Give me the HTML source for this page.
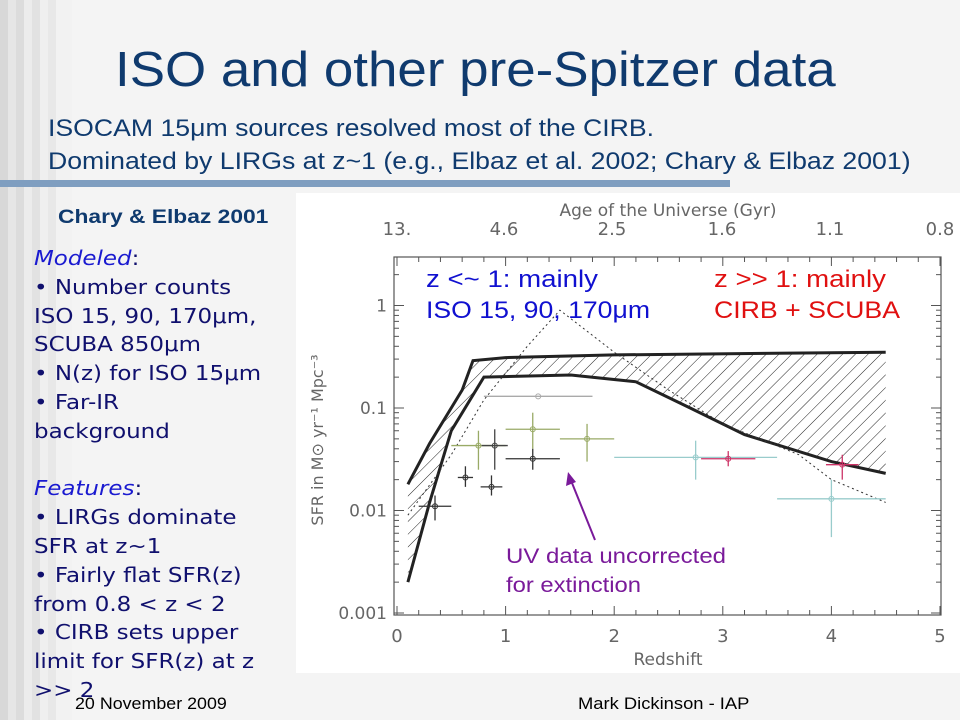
<!DOCTYPE html>
<html><head><meta charset="utf-8"><style>
body{margin:0;width:960px;height:720px;overflow:hidden;position:relative;font-family:"Liberation Sans",sans-serif;
background:linear-gradient(90deg,#d8d8d8 0,#d8d8d8 8px,#e6e6e6 8px,#e6e6e6 16px,#dcdcdc 16px,#dcdcdc 24px,#ececec 24px,#ececec 32px,#e2e2e2 32px,#e2e2e2 40px,#efefef 40px,#efefef 48px,#e8e8e8 48px,#e8e8e8 56px,#f2f2f2 56px,#f2f2f2 72px,#f4f4f4 72px,#f4f4f4 100%);}
.t{position:absolute;white-space:nowrap;transform-origin:0 0}
#left{position:absolute;left:34px;top:244px;font-family:"DejaVu Sans",sans-serif;font-size:20.5px;line-height:28.8px;color:#10106e;transform:scaleX(1.12);transform-origin:0 0;white-space:nowrap}
#left i{color:#1a1ad0}
</style></head><body>
<div class="t" style="left:115px;top:42px;font-size:49px;color:#0f3a6e;transform:scaleX(1.08)">ISO and other pre-Spitzer data</div>
<div class="t" style="left:48px;top:112px;font-size:24px;line-height:33px;color:#0f3a6e;transform:scaleX(1.11)">ISOCAM 15μm sources resolved most of the CIRB.<br>Dominated by LIRGs at z~1 (e.g., Elbaz et al. 2002; Chary &amp; Elbaz 2001)</div>
<div style="position:absolute;left:0;top:180px;width:730px;height:7px;background:#7f9ec0"></div>
<div class="t" style="left:58px;top:207px;font-size:19px;font-weight:bold;color:#0f3a6e;transform:scaleX(1.2)">Chary &amp; Elbaz 2001</div>
<div style="position:absolute;left:296px;top:193px;width:664px;height:480px;background:#fff"></div>
<div id="left"><i>Modeled</i>:<br>• Number counts<br>ISO 15, 90, 170μm,<br>SCUBA 850μm<br>• N(z) for ISO 15μm<br>• Far-IR<br>background<br><br><i>Features</i>:<br>• LIRGs dominate<br>SFR at z~1<br>• Fairly flat SFR(z)<br>from 0.8 &lt; z &lt; 2<br>• CIRB sets upper<br>limit for SFR(z) at z<br>&gt;&gt; 2</div>
<svg id="s" width="960" height="720" style="position:absolute;left:0;top:0" font-family="DejaVu Sans,sans-serif"></svg>
<div class="t" style="left:75px;top:694px;font-size:17px;color:#000;transform:scaleX(1.05)">20 November 2009</div>
<div class="t" style="left:578px;top:694px;font-size:17px;color:#000;transform:scaleX(1.08)">Mark Dickinson - IAP</div>
<script>
const X=z=>397+108.6*z, Y=v=>613-(Math.log10(v)+3)*102.5;
let h='';
h+='<defs><pattern id="hp" width="9" height="9" patternUnits="userSpaceOnUse" patternTransform="rotate(45)"><line x1="0" y1="0" x2="0" y2="9" stroke="#222" stroke-width="1"/></pattern></defs>';
h+='<rect x="394" y="257" width="547" height="358" fill="none" stroke="#555" stroke-width="1.2"/>';
for(let i=0;i<=5;i++){h+=`<text x="${X(i)}" y="642" font-size="18" fill="#666" text-anchor="middle">${i}</text><line x1="${X(i)}" y1="615" x2="${X(i)}" y2="606" stroke="#555"/><line x1="${X(i)}" y1="257" x2="${X(i)}" y2="266" stroke="#555"/>`;
 for(let k=1;k<5&&i<5;k++){const x=X(i+k*0.2);h+=`<line x1="${x}" y1="615" x2="${x}" y2="610" stroke="#555"/><line x1="${x}" y1="257" x2="${x}" y2="262" stroke="#555"/>`;}}
const yl=[[1,'1'],[0.1,'0.1'],[0.01,'0.01'],[0.001,'0.001']];
for(const [v,s] of yl){h+=`<text x="387" y="${Y(v)+6}" font-size="17" fill="#666" text-anchor="end">${s}</text><line x1="394" y1="${Y(v)}" x2="404" y2="${Y(v)}" stroke="#555"/><line x1="941" y1="${Y(v)}" x2="931" y2="${Y(v)}" stroke="#555"/>`;
 for(let k=2;k<10;k++){const y=Y(v*k);if(y<257)continue;h+=`<line x1="394" y1="${y}" x2="399" y2="${y}" stroke="#555"/><line x1="941" y1="${y}" x2="936" y2="${y}" stroke="#555"/>`;}}
[['13.',397],['4.6',504],['2.5',612],['1.6',722],['1.1',830],['0.8',940]].forEach(([s,x])=>h+=`<text x="${x}" y="235" font-size="18" fill="#666" text-anchor="middle">${s}</text>`);
h+='<text x="668" y="216" font-size="17" fill="#666" text-anchor="middle">Age of the Universe (Gyr)</text>';
h+='<text x="668" y="665" font-size="17" fill="#666" text-anchor="middle">Redshift</text>';
h+='<text transform="translate(323,440) rotate(-90)" font-size="16" fill="#666" text-anchor="middle">SFR in M⊙ yr⁻¹ Mpc⁻³</text>';
const P=a=>a.map(([z,v],i)=>(i?'L':'M')+X(z).toFixed(1)+','+Y(v).toFixed(1)).join('');
const up=[[0.1,0.018],[0.3,0.045],[0.6,0.15],[0.7,0.29],[1,0.31],[2,0.33],[4.5,0.35]];
const lo=[[0.1,0.002],[0.3,0.012],[0.5,0.06],[0.8,0.2],[1.6,0.21],[2.2,0.18],[2.7,0.1],[3.2,0.055],[4,0.03],[4.5,0.023]];
h+=`<path d="${P(up)}${P(lo.slice().reverse()).replace('M','L')}Z" fill="url(#hp)"/>`;
h+=`<path d="${P(up)}" fill="none" stroke="#222" stroke-width="3"/><path d="${P(lo)}" fill="none" stroke="#222" stroke-width="3"/>`;
h+=`<path d="${P([[0.1,0.009],[0.5,0.035],[0.8,0.12],[1.2,0.4],[1.5,0.9],[2,0.35],[2.5,0.15],[3,0.07],[3.7,0.035],[4,0.02],[4.5,0.012]])}" fill="none" stroke="#333" stroke-dasharray="2,3"/>`;
const pts=[[0.35,0.011,0.15,0.008,0.014,'#333'],[0.63,0.021,0.07,0.017,0.027,'#333'],[0.87,0.017,0.1,0.014,0.022,'#333'],[0.75,0.043,0.25,0.025,0.06,'#9a6'],[0.9,0.043,0.12,0.025,0.062,'#444'],[1.25,0.062,0.25,0.04,0.09,'#9a6'],[1.25,0.032,0.25,0.025,0.04,'#333'],[1.75,0.05,0.25,0.03,0.07,'#9a6'],[1.3,0.13,0.5,0.13,0.13,'#aaa'],[2.75,0.033,0.75,0.02,0.048,'#9cc'],[3.05,0.032,0.25,0.027,0.038,'#c36'],[4.1,0.028,0.15,0.02,0.035,'#c36'],[4,0.013,0.5,0.0055,0.02,'#9cc']];
for(const [z,v,dz,l,u,c] of pts){h+=`<line x1="${X(z-dz)}" y1="${Y(v)}" x2="${X(z+dz)}" y2="${Y(v)}" stroke="${c}" stroke-width="1.3"/><line x1="${X(z)}" y1="${Y(l)}" x2="${X(z)}" y2="${Y(u)}" stroke="${c}" stroke-width="1.3"/><circle cx="${X(z)}" cy="${Y(v)}" r="2.5" fill="none" stroke="${c}"/>`;}
h+='<line x1="595" y1="540" x2="570" y2="478" stroke="#7a1a9a" stroke-width="2"/><path d="M568,472 L566,486 L576,482Z" fill="#7a1a9a"/>';
h+='<g font-family="Liberation Sans,sans-serif" font-size="24" xml:space="preserve" style="white-space:pre">'+
'<text x="426" y="287" fill="#1010d0" textLength="172" lengthAdjust="spacingAndGlyphs">z &lt;~ 1:  mainly</text>'+
'<text x="426" y="318" fill="#1010d0" textLength="224" lengthAdjust="spacingAndGlyphs">ISO 15, 90, 170μm</text>'+
'<text x="714" y="287" fill="#e01010" textLength="172" lengthAdjust="spacingAndGlyphs">z &gt;&gt; 1:  mainly</text>'+
'<text x="714" y="318" fill="#e01010" textLength="186" lengthAdjust="spacingAndGlyphs">CIRB + SCUBA</text>'+
'<text x="506" y="563" fill="#7a1a9a" font-size="21" textLength="220" lengthAdjust="spacingAndGlyphs">UV data uncorrected</text>'+
'<text x="506" y="592" fill="#7a1a9a" font-size="21" textLength="135" lengthAdjust="spacingAndGlyphs">for extinction</text></g>';
document.getElementById('s').innerHTML=h;
</script>
</body></html>
